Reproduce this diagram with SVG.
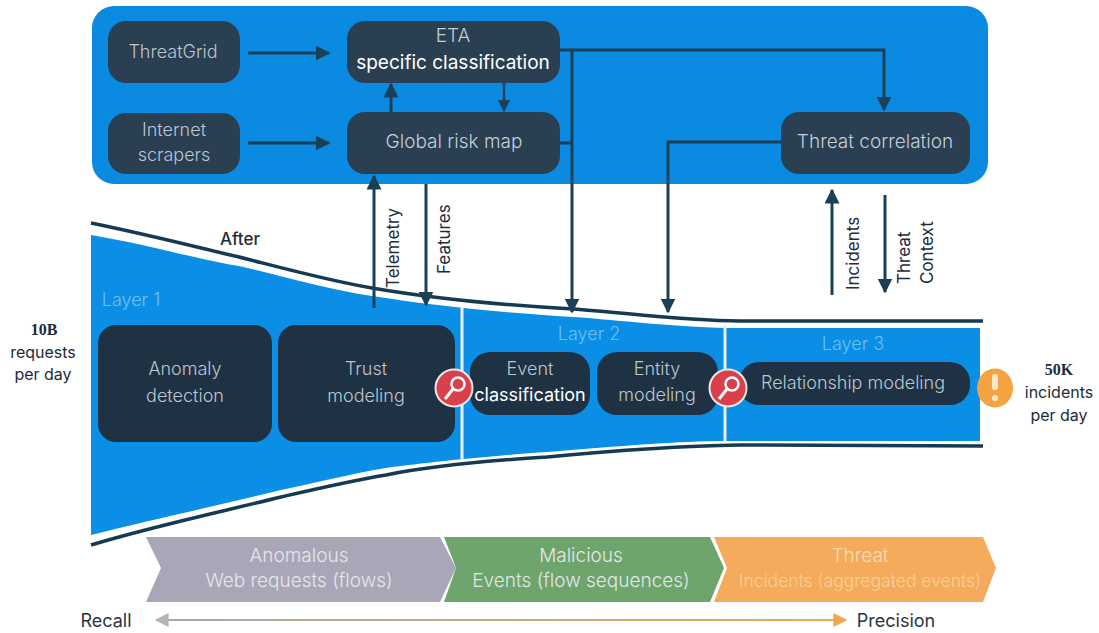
<svg xmlns="http://www.w3.org/2000/svg" width="1099" height="633" viewBox="0 0 1099 633">
<defs>
<marker id="a" viewBox="0 0 10 10" refX="9" refY="5" markerWidth="5" markerHeight="5" orient="auto-start-reverse" markerUnits="strokeWidth"><path d="M0 0L10 5L0 10z" fill="#1c3f58"/></marker>
<marker id="gl" viewBox="0 0 10 10" refX="9" refY="5" markerWidth="7" markerHeight="7" orient="auto-start-reverse" markerUnits="strokeWidth"><path d="M0 0L10 5L0 10z" fill="#b4b4b8"/></marker>
<marker id="gr" viewBox="0 0 10 10" refX="9" refY="5" markerWidth="7" markerHeight="7" orient="auto" markerUnits="strokeWidth"><path d="M0 0L10 5L0 10z" fill="#f0a850"/></marker>
<linearGradient id="rp" gradientUnits="userSpaceOnUse" x1="156" y1="620" x2="846" y2="620"><stop offset="0" stop-color="#a8a8ac"/><stop offset="1" stop-color="#f0a850"/></linearGradient>
</defs>
<style>
text{font-family:"Inter","Liberation Sans",sans-serif;font-weight:300}
.n{fill:#2a3f52}
.m{fill:#1f3244}
.t{fill:#bcc6ce;font-size:18px;text-anchor:middle}
.u{fill:#c4ced6;font-size:19px;text-anchor:middle}
.c{fill:none;stroke:#1c3f58;stroke-width:3;marker-end:url(#a)}
.p{fill:none;stroke:#1c3f58;stroke-width:3}
.d{fill:#1d2d3a;font-size:17px;font-weight:400}
.l{fill:#6cc0ee;font-size:18px;text-anchor:middle}
.b{fill:none;stroke:#163a52;stroke-width:3.500}
.s{fill:#e4e6ea;font-size:19px;text-anchor:middle}
.o{fill:#1d2d3a;font-size:16px;text-anchor:middle;font-weight:400}
</style>
<rect width="1099" height="633" fill="#fff"/>
<rect x="92" y="6" width="896" height="178" rx="22" fill="#0a8ae0"/>
<path d="M91 235C150 245 200 260 239 266C290 278 330 290 372 296C430 305 500 313 573 317C620 320 680 328 740 328L980 328V441H725C680 441 620 446 547 452C500 455 430 462 386 468C350 474 320 482 281 490C220 505 150 520 91 535Z" fill="#0b8fe6"/>
<path class="b" d="M91 223C150 235 200 248 239 257C290 270 330 281 372 288C430 298 500 305 573 309C620 312 680 321 740 321L983 321"/>
<path class="b" d="M91 545C150 527 220 512 281 497C320 488 350 481 386 475C430 466 500 460 547 457C620 450 680 446 740 445L983 446"/>
<path d="M462 307V460M725 325V441" stroke="#e8f2f8" stroke-width="3" fill="none"/>
<g id="threatgrid"><rect class="n" x="108" y="21" width="132" height="62" rx="18"/><text class="t" x="173" y="58">ThreatGrid</text></g>
<g id="scrapers"><rect class="n" x="108" y="113" width="132" height="61" rx="18"/><text class="t"><tspan x="174" y="136">Internet</tspan><tspan x="174" y="161">scrapers</tspan></text></g>
<g id="eta"><rect class="n" x="347" y="21" width="213" height="62" rx="18"/><text class="u"><tspan x="453" y="42">ETA</tspan><tspan x="453" y="69" fill="#fff" font-weight="400">specific classification</tspan></text></g>
<g id="risk"><rect class="n" x="347" y="112" width="213" height="62" rx="18"/><text class="u" x="454" y="148">Global risk map</text></g>
<g id="correlation"><rect class="n" x="781" y="112" width="189" height="62" rx="18"/><text class="u" x="875" y="148">Threat correlation</text></g>
<g id="anomaly"><rect class="m" x="98" y="325" width="174" height="117" rx="18"/><text class="t"><tspan x="185" y="375">Anomaly</tspan><tspan x="185" y="402">detection</tspan></text></g>
<g id="trust"><rect class="m" x="278" y="325" width="177" height="117" rx="18"/><text class="t"><tspan x="366" y="375">Trust</tspan><tspan x="366" y="402">modeling</tspan></text></g>
<g id="event"><rect class="m" x="470" y="352" width="120" height="63" rx="20"/><text class="t"><tspan x="530" y="375">Event</tspan><tspan x="530" y="401" fill="#fff" font-weight="400">classification</tspan></text></g>
<g id="entity"><rect class="m" x="597" y="352" width="121" height="63" rx="20"/><text class="t"><tspan x="657" y="375">Entity</tspan><tspan x="657" y="401">modeling</tspan></text></g>
<g id="relationship"><rect class="m" x="739" y="362" width="231" height="43" rx="20"/><text class="t" x="853" y="389">Relationship modeling</text></g>
<g id="connectors">
<path class="c" d="M248 53H329"/><path class="c" d="M248 143H329"/>
<path class="c" d="M391 112V84"/><path class="c" style="stroke-width:2.500" d="M504 83V111"/>
<path class="c" d="M560 50H884V110"/>
<path class="c" d="M572 50V312"/>
<path class="p" d="M560 143H572"/>
<path class="c" d="M781 142H668V312"/>
<path class="c" d="M374 308V176"/><path class="c" d="M426 184V305"/>
<path class="c" d="M832 295V190"/><path class="c" d="M885 195V292"/>
<path d="M156 620H846" stroke="url(#rp)" stroke-width="2" fill="none" marker-start="url(#gl)" marker-end="url(#gr)"/>
</g>
<g id="labels">
<text x="240" y="245" font-size="17" fill="#1d2d3a" text-anchor="middle" style="font-weight:500">After</text>
<text class="d" transform="translate(399 288) rotate(-90)">Telemetry</text>
<text class="d" transform="translate(450 274) rotate(-90)">Features</text>
<text class="d" transform="translate(859 290) rotate(-90)">Incidents</text>
<text class="d" transform="translate(910 284) rotate(-90)">Threat</text>
<text class="d" transform="translate(933 284) rotate(-90)">Context</text>
<text class="l" x="131" y="306">Layer 1</text><text class="l" x="589" y="340">Layer 2</text><text class="l" x="853" y="350">Layer 3</text>
<text x="44" y="335" font-size="16" fill="#1d2d3a" text-anchor="middle" style="font-weight:700;font-family:'Liberation Serif',serif">10B</text>
<text class="o" x="43" y="358">requests</text><text class="o" x="43" y="380">per day</text>
<text x="1059" y="375" font-size="16" fill="#1d2d3a" text-anchor="middle" style="font-weight:700;font-family:'Liberation Serif',serif">50K</text>
<text class="o" x="1059" y="398">incidents</text><text class="o" x="1059" y="421">per day</text>
<text x="106" y="627" font-size="18" fill="#2a3640" text-anchor="middle" style="font-weight:400">Recall</text><text x="896" y="627" font-size="18" fill="#2a3640" text-anchor="middle" style="font-weight:400">Precision</text>
</g>
<g id="mag1"><circle cx="454" cy="388" r="18.500" fill="#d9404c" stroke="#e8e8e8" stroke-width="2"/><circle cx="458" cy="384" r="6.500" fill="none" stroke="#fff" stroke-width="2.500"/><path d="M453 389L445 399" stroke="#fff" stroke-width="3"/></g>
<g id="mag2"><circle cx="728" cy="388" r="18.500" fill="#d9404c" stroke="#e8e8e8" stroke-width="2"/><circle cx="732" cy="384" r="6.500" fill="none" stroke="#fff" stroke-width="2.500"/><path d="M727 389L719 399" stroke="#fff" stroke-width="3"/></g>
<g id="alert"><ellipse cx="995" cy="388" rx="18" ry="19.500" fill="#f4a340"/><rect x="992" y="374" width="6" height="16" rx="2.500" fill="#fbe8cc"/><circle cx="995" cy="398" r="3" fill="#fbe8cc"/></g>
<g id="band1"><path d="M146 537H440L456 568L440 602H146L161 568Z" fill="#a9a6b8"/><text class="s"><tspan x="299" y="562">Anomalous</tspan><tspan x="299" y="587">Web requests (flows)</tspan></text></g>
<g id="band2"><path d="M444 537H710L724 568L710 602H444L456 568Z" fill="#6ea56c"/><text class="s"><tspan x="581" y="562">Malicious</tspan><tspan x="581" y="587">Events (flow sequences)</tspan></text></g>
<g id="band3"><path d="M714 537H983L996 568L983 602H714L727 568Z" fill="#f4ab5c"/><text text-anchor="middle" fill="#fbdcb4"><tspan x="860" y="562" font-size="19">Threat</tspan><tspan x="860" y="587" font-size="17.500" fill="#f9cf9a">Incidents (aggregated events)</tspan></text></g>
</svg>
